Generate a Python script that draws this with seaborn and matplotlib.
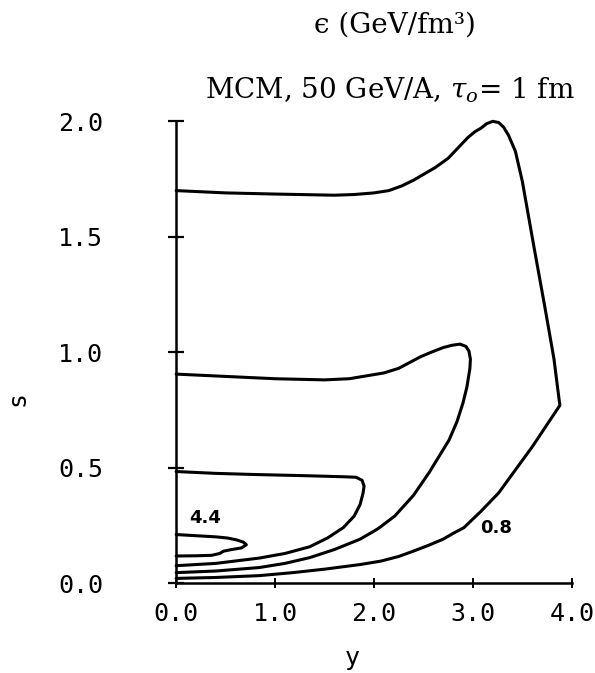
import matplotlib
matplotlib.use("Agg")
import matplotlib.pyplot as plt
from matplotlib.ticker import FormatStrFormatter
import pandas as pd
import seaborn as sns

# Energy-density contours in the (y, s) plane; each closes on the s axis at y = 0
y_08 = [0.0, 0.5, 1.0, 1.6, 1.8, 2.0, 2.15, 2.28, 2.4, 2.5, 2.62, 2.75, 2.85, 2.95, 3.02,
        3.08, 3.14, 3.2, 3.26, 3.31, 3.36, 3.43, 3.50, 3.62, 3.73, 3.82, 3.87, 3.88,
        3.74, 3.60, 3.43, 3.26, 3.08, 2.91, 2.80, 2.70, 2.55, 2.41, 2.25, 2.07, 1.86,
        1.50, 1.18, 0.84, 0.40, 0.0]
s_08 = [1.70, 1.69, 1.685, 1.68, 1.683, 1.69, 1.70, 1.72, 1.745, 1.77, 1.80, 1.84, 1.885, 1.93, 1.955,
        1.97, 1.99, 2.0, 1.995, 1.975, 1.94, 1.87, 1.74, 1.45, 1.19, 0.97, 0.80, 0.77,
        0.68, 0.59, 0.49, 0.39, 0.31, 0.24, 0.215, 0.19, 0.163, 0.14, 0.115, 0.095, 0.08,
        0.06, 0.045, 0.032, 0.024, 0.02]

y_c2 = [0.0, 0.5, 1.0, 1.5, 1.75, 1.96, 2.1, 2.25, 2.36, 2.47, 2.58, 2.70, 2.79, 2.87, 2.93,
        2.96, 2.975, 2.97, 2.94, 2.90, 2.84, 2.76, 2.66, 2.56, 2.40, 2.21, 2.04, 1.86,
        1.60, 1.35, 1.10, 0.84, 0.40, 0.0]
s_c2 = [0.905, 0.895, 0.885, 0.88, 0.885, 0.90, 0.91, 0.93, 0.955, 0.98, 1.0, 1.02, 1.03, 1.035, 1.025,
        1.005, 0.97, 0.93, 0.85, 0.78, 0.70, 0.62, 0.55, 0.48, 0.38, 0.29, 0.235, 0.19,
        0.145, 0.11, 0.085, 0.067, 0.052, 0.045]

y_c3 = [0.0, 0.4, 0.8, 1.3, 1.72, 1.82, 1.88, 1.90, 1.89, 1.86, 1.80, 1.69, 1.53, 1.35,
        1.10, 0.84, 0.40, 0.0]
s_c3 = [0.483, 0.475, 0.47, 0.465, 0.46, 0.458, 0.445, 0.42, 0.39, 0.34, 0.29, 0.24, 0.195, 0.157,
        0.128, 0.108, 0.085, 0.075]

y_44 = [0.0, 0.2, 0.4, 0.52, 0.61, 0.68, 0.71, 0.66, 0.56, 0.48, 0.44, 0.36, 0.2, 0.0]
s_44 = [0.21, 0.205, 0.20, 0.195, 0.187, 0.177, 0.166, 0.152, 0.145, 0.138, 0.128, 0.12, 0.118, 0.117]

contours = {"0.8": (y_08, s_08), "c2": (y_c2, s_c2), "c3": (y_c3, s_c3), "4.4": (y_44, s_44)}

x_ticks = [0.0, 1.0, 2.0, 3.0, 4.0]
y_ticks = [0.0, 0.5, 1.0, 1.5, 2.0]

frames = []
for name, (ys, ss) in contours.items():
    frames.append(pd.DataFrame({"y": ys, "s": ss, "level": name, "idx": range(len(ys))}))
df = pd.concat(frames, ignore_index=True)

sns.set_style("ticks")
plt.rcParams["mathtext.fontset"] = "dejavuserif"
plt.rcParams["text.color"] = "black"

fig = plt.figure(figsize=(5.95, 6.73), dpi=100)
ax = fig.add_axes([0.296, 0.1337, 0.665, 0.686])

sns.lineplot(data=df, x="y", y="s", units="level", estimator=None, sort=False,
             color="black", linewidth=2.2, ax=ax, legend=False)
for ln in ax.get_lines():
    ln.set_clip_on(False)
    ln.set_solid_joinstyle("round")

ax.set_xlim(0, 4)
ax.set_ylim(0, 2)
ax.set_xticks(x_ticks)
ax.set_yticks(y_ticks)
ax.xaxis.set_major_formatter(FormatStrFormatter("%.1f"))
ax.yaxis.set_major_formatter(FormatStrFormatter("%.1f"))

sns.despine(ax=ax)
for side in ("left", "bottom"):
    ax.spines[side].set_linewidth(1.8)
    ax.spines[side].set_color("black")

mono = "DejaVu Sans Mono"
ax.tick_params(axis="y", which="major", left=True, direction="inout", length=11, width=1.6,
               pad=47, labelsize=18, colors="black")
ax.tick_params(axis="x", which="major", bottom=True, direction="inout", length=7, width=1.4,
               pad=10, labelsize=18, colors="black")
for lab in ax.get_xticklabels() + ax.get_yticklabels():
    lab.set_family(mono)

ax.set_xlabel("y", family=mono, fontsize=18, va="center", color="black")
ax.set_ylabel("s", family=mono, fontsize=18, va="center", color="black")
ax.xaxis.set_label_coords(0.444, -0.162)
ax.yaxis.set_label_coords(-0.40, 0.40)

ax.text(0.29, 0.28, "4.4", fontsize=13, fontweight="bold", ha="center", va="center",
        color="black")
ax.text(3.23, 0.24, "0.8", fontsize=13, fontweight="bold", ha="center", va="center",
        color="black")

fig.text(0.664, 0.963, "\u03f5 (GeV/fm\u00b3)", family="DejaVu Serif",
         fontsize=20, ha="center", va="center", color="black")
fig.text(0.655, 0.866, r"MCM, 50 GeV/A, $\tau_o$= 1 fm", family="DejaVu Serif",
         fontsize=20, ha="center", va="center", color="black")

fig.savefig("out.png", dpi=100, facecolor="white")
